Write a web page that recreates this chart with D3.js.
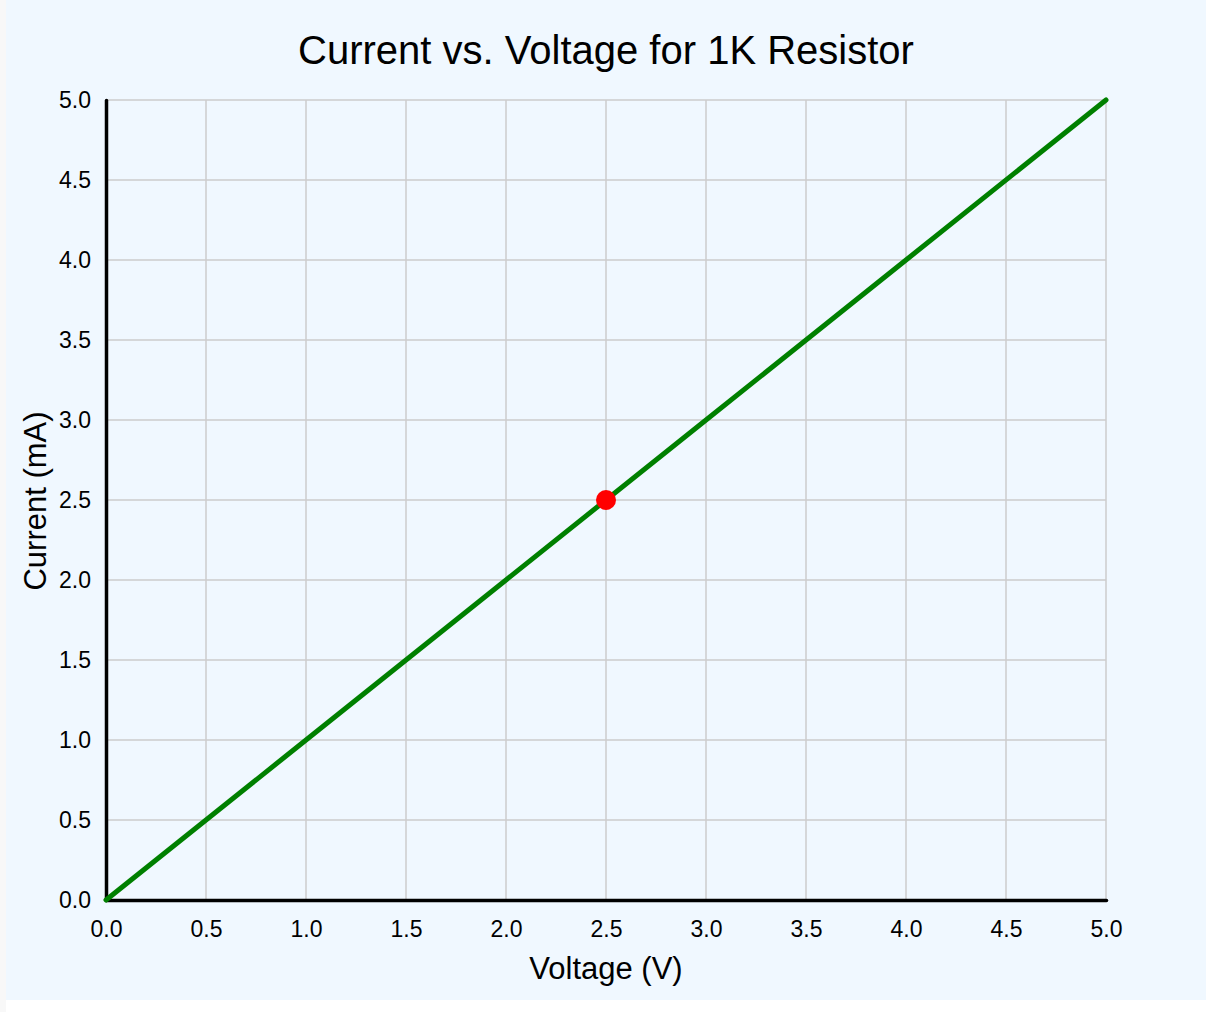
<!DOCTYPE html>
<html>
<head>
<meta charset="utf-8">
<script src="https://cdn.jsdelivr.net/npm/d3@7"></script>
<style>
  html, body { margin: 0; padding: 0; background: #ffffff; }
  svg { display: block; }
  text { font-family: "Liberation Sans", Arial, Helvetica, sans-serif; fill: #000; }
</style>
</head>
<body>
<svg id="chart" width="1206" height="1012"></svg>
<script>
const voltage = [0, 1, 2, 3, 4, 5];
const current = [0, 1, 2, 3, 4, 5];
const marker = { v: 2.5, i: 2.5 };
const tickValues = [0, 0.5, 1, 1.5, 2, 2.5, 3, 3.5, 4, 4.5, 5];
const titleText = "Current vs. Voltage for 1K Resistor";
const xLabel = "Voltage (V)";
const yLabel = "Current (mA)";

const svg = d3.select("#chart");
svg.append("rect").attr("x", 0).attr("y", 0).attr("width", 6).attr("height", 1012).attr("fill", "#f8f8f8");
svg.append("rect").attr("x", 6).attr("y", 0).attr("width", 1200).attr("height", 1000).attr("fill", "#f0f8ff");

const m = { left: 106, top: 100, right: 1106, bottom: 900 };
const x = d3.scaleLinear().domain([0, 5]).range([m.left, m.right]);
const y = d3.scaleLinear().domain([0, 5]).range([m.bottom, m.top]);

// grid
const g = svg.append("g");
g.selectAll("line.vx").data(tickValues).enter().append("line")
  .attr("x1", d => x(d)).attr("x2", d => x(d)).attr("y1", m.top).attr("y2", m.bottom)
  .attr("stroke", "#cccccc").attr("stroke-width", 1.5);
g.selectAll("line.hy").data(tickValues).enter().append("line")
  .attr("y1", d => y(d)).attr("y2", d => y(d)).attr("x1", m.left).attr("x2", m.right)
  .attr("stroke", "#cccccc").attr("stroke-width", 1.5);

// axes
const xAxis = svg.append("g").attr("transform", `translate(0,${m.bottom})`)
  .call(d3.axisBottom(x).tickValues(tickValues).tickFormat(d3.format(".1f")).tickSize(0).tickPadding(21));
const yAxis = svg.append("g").attr("transform", `translate(${m.left},0)`)
  .call(d3.axisLeft(y).tickValues(tickValues).tickFormat(d3.format(".1f")).tickSize(0).tickPadding(15));
[xAxis, yAxis].forEach(a => {
  a.select(".domain").attr("stroke", "#000").attr("stroke-width", 3.5).attr("stroke-linecap", "round");
  a.selectAll("text").style("font-size", "23px").style("font-family", '"Liberation Sans", Arial, sans-serif').attr("fill", "#000");
});

// line
const line = d3.line().x((d, k) => x(voltage[k])).y((d, k) => y(current[k]));
svg.append("path").datum(current).attr("d", line)
  .attr("fill", "none").attr("stroke", "#008000").attr("stroke-width", 5).attr("stroke-linecap", "round");

// marker
svg.append("circle").attr("cx", x(marker.v)).attr("cy", y(marker.i)).attr("r", 10).attr("fill", "#ff0000");

// title & labels
svg.append("text").attr("x", 606).attr("y", 64).attr("text-anchor", "middle")
  .style("font-size", "40px").text(titleText);
svg.append("text").attr("x", 606).attr("y", 979).attr("text-anchor", "middle")
  .style("font-size", "31px").text(xLabel);
svg.append("text").attr("transform", "translate(46,501) rotate(-90)").attr("text-anchor", "middle")
  .style("font-size", "31px").text(yLabel);
</script>
</body>
</html>
